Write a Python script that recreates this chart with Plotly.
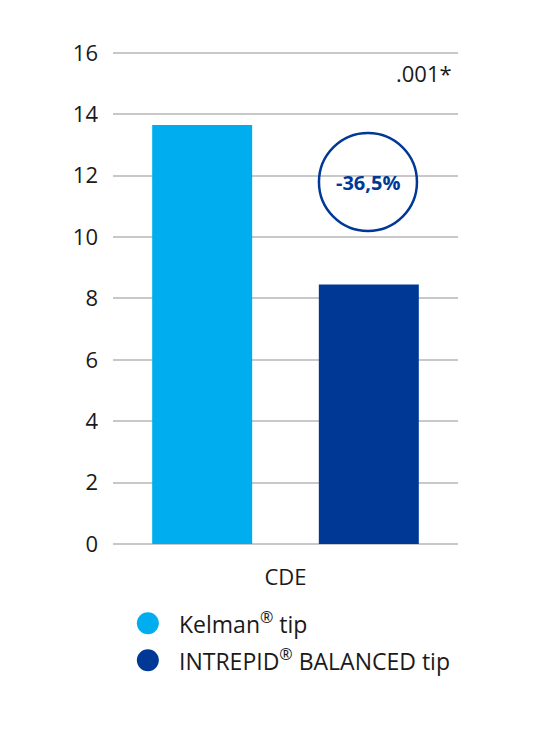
import plotly.graph_objects as go

categories = ["CDE"]
series_names = ["Kelman<sup>®</sup> tip", "INTREPID<sup>®</sup> BALANCED tip"]
kelman_values = [13.65]
intrepid_values = [8.45]
colors = ["#00aeef", "#003896"]
y_ticks = [0, 2, 4, 6, 8, 10, 12, 14, 16]
diff_label = "-36,5%"
p_label = ".001*"

FONT = "Open Sans"
DARK = "#1a1a1a"
GRID = "#c8c8c8"

fig = go.Figure()
for name, vals, col in zip(series_names, [kelman_values, intrepid_values], colors):
    fig.add_trace(go.Bar(x=categories, y=vals, name=name, marker_color=col,
                         marker_line_width=0, showlegend=False))

fig.update_layout(
    width=537, height=724,
    margin=dict(l=105, r=87, t=43, b=188),
    plot_bgcolor="white", paper_bgcolor="white",
    barmode="group", bargap=0.034, bargroupgap=0.4,
    font=dict(family=FONT, color=DARK, size=22),
    showlegend=False,
)
fig.update_yaxes(range=[0, 16.06], tickvals=y_ticks, showgrid=True, gridcolor=GRID,
                 gridwidth=1.5, zeroline=True, zerolinecolor=GRID, zerolinewidth=1.5,
                 showline=False, ticks="", ticklabelstandoff=14,
                 tickfont=dict(family=FONT, size=22, color=DARK))
fig.update_xaxes(range=[-0.5, 0.5], showline=False, ticks="", ticklabelstandoff=18,
                 tickfont=dict(family=FONT, size=22, color=DARK))

# circle with difference label above the second bar
fig.add_shape(type="circle", xref="x", yref="y", xsizemode="pixel", ysizemode="pixel",
              xanchor=0.239, yanchor=11.79, x0=-49, x1=49, y0=-49, y1=49,
              line=dict(color="#003896", width=2.5), fillcolor="rgba(0,0,0,0)")
fig.add_annotation(x=0.239, y=11.79, xref="x", yref="y", text="<b>" + diff_label + "</b>",
                   showarrow=False, font=dict(family=FONT, size=20, color="#003896"))
fig.add_annotation(x=0.989, y=0.955, xref="paper", yref="paper", text=p_label,
                   xanchor="right", yanchor="middle", showarrow=False,
                   font=dict(family=FONT, size=22, color=DARK))

# manual legend with round symbols
legend_rows = [-0.1606, -0.2358]
for name, col, ly in zip(series_names, colors, legend_rows):
    fig.add_shape(type="circle", xref="paper", yref="paper", xsizemode="pixel",
                  ysizemode="pixel", xanchor=0.101, yanchor=ly, x0=-11, x1=11, y0=-11, y1=11,
                  line=dict(width=0), fillcolor=col)
    fig.add_annotation(x=0.186, y=ly, xref="paper", yref="paper", text=name,
                       xanchor="left", yanchor="middle", showarrow=False,
                       font=dict(family=FONT, size=23, color=DARK))

fig.write_html("out.html")
